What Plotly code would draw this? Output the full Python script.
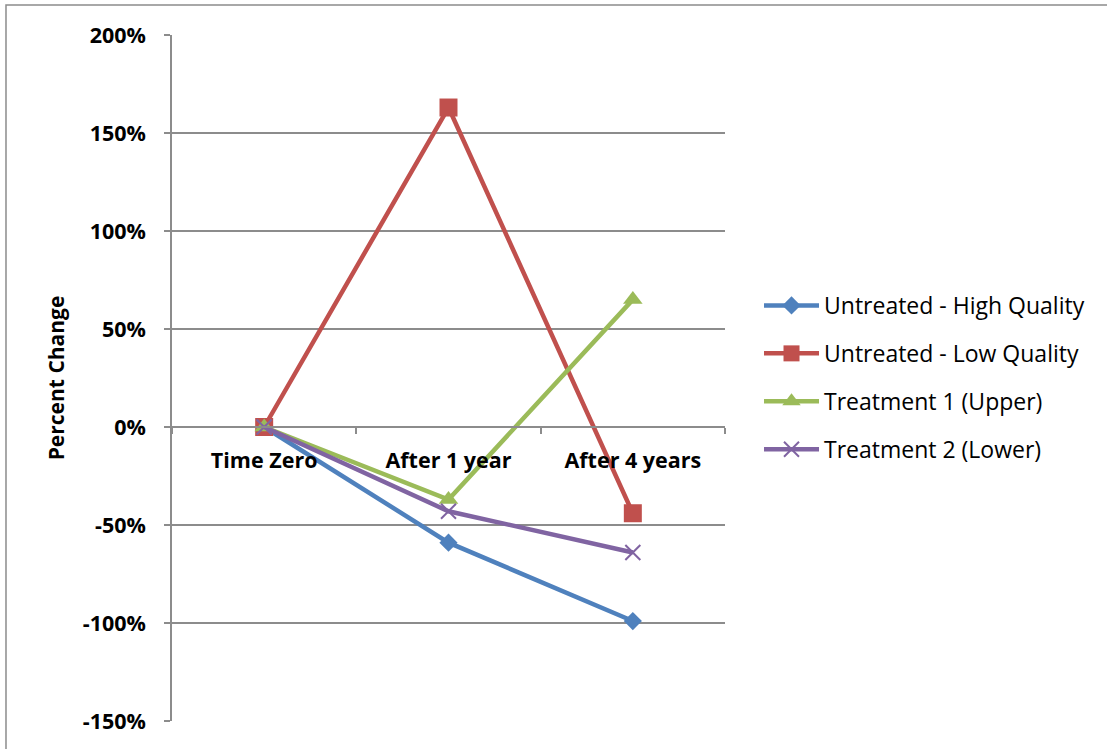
import plotly.graph_objects as go

# Sampling times and percent change per series
categories = ["Time Zero", "After 1 year", "After 4 years"]
untreated_high = [0, -59, -99]
untreated_low = [0, 163, -44]
treatment_upper = [0, -37, 65]
treatment_lower = [0, -43, -64]

y_ticks = [-150, -100, -50, 0, 50, 100, 150, 200]
y_tick_text = ["-150%", "-100%", "-50%", "0%", "50%", "100%", "150%", "200%"]

FONT = "Open Sans, sans-serif"
GRID = "#8c8c8c"

series = [
    ("Untreated - High Quality", untreated_high, "#4F81BD",
     dict(symbol="diamond", size=14)),
    ("Untreated - Low Quality", untreated_low, "#C0504D",
     dict(symbol="square", size=18)),
    ("Treatment 1 (Upper)", treatment_upper, "#9BBB59",
     dict(symbol="triangle-up", size=17)),
    ("Treatment 2 (Lower)", treatment_lower, "#8064A2",
     dict(symbol="x-thin", size=15, line=dict(width=2, color="#8064A2"))),
]

fig = go.Figure()
for i, (name, vals, color, mk) in enumerate(series):
    fig.add_trace(go.Scatter(
        x=categories, y=vals, name=name, mode="lines+markers",
        line=dict(color=color, width=4.5),
        marker=dict(color=color, **mk),
        legendgroup=f"g{i}",
    ))

fig.update_layout(
    width=1109, height=749,
    margin=dict(l=172, r=384, t=35, b=28),
    paper_bgcolor="white", plot_bgcolor="white",
    font=dict(family=FONT, color="black"),
    showlegend=True,
    legend=dict(
        x=1.0615, y=0.5007, xanchor="left", yanchor="middle",
        font=dict(size=23, family=FONT),
        traceorder="grouped", tracegroupgap=15,
        itemwidth=55,
    ),
    xaxis=dict(
        type="category",
        anchor="free", position=150 / 350,
        showline=True, linecolor=GRID, linewidth=1.5,
        ticks="outside", tickson="boundaries", ticklen=6,
        tickcolor=GRID, tickwidth=1.5,
        showgrid=False, zeroline=False,
        tickfont=dict(size=21.5, family=FONT, weight="bold"),
        ticklabelstandoff=14,
        range=[-0.5, 2.5],
    ),
    yaxis=dict(
        range=[-150, 200], tickmode="array",
        tickvals=y_ticks, ticktext=y_tick_text,
        showline=True, linecolor=GRID, linewidth=1.5,
        ticks="outside", ticklen=6, tickcolor=GRID, tickwidth=1.5,
        showgrid=True, gridcolor=GRID, gridwidth=1.5,
        zeroline=False,
        tickfont=dict(size=21.5, family=FONT, weight="bold"),
        ticklabelstandoff=14,
        title=dict(text="Percent Change", standoff=12,
                   font=dict(size=21, family=FONT, weight="bold")),
    ),
)

# Outer chart frame (top and left edges)
fig.add_shape(type="path", xref="paper", yref="paper",
              path="M -0.3002 -0.05 L -0.3002 1.0437 L 1.6908 1.0437",
              line=dict(color=GRID, width=1.5))

fig.write_html("out.html")
